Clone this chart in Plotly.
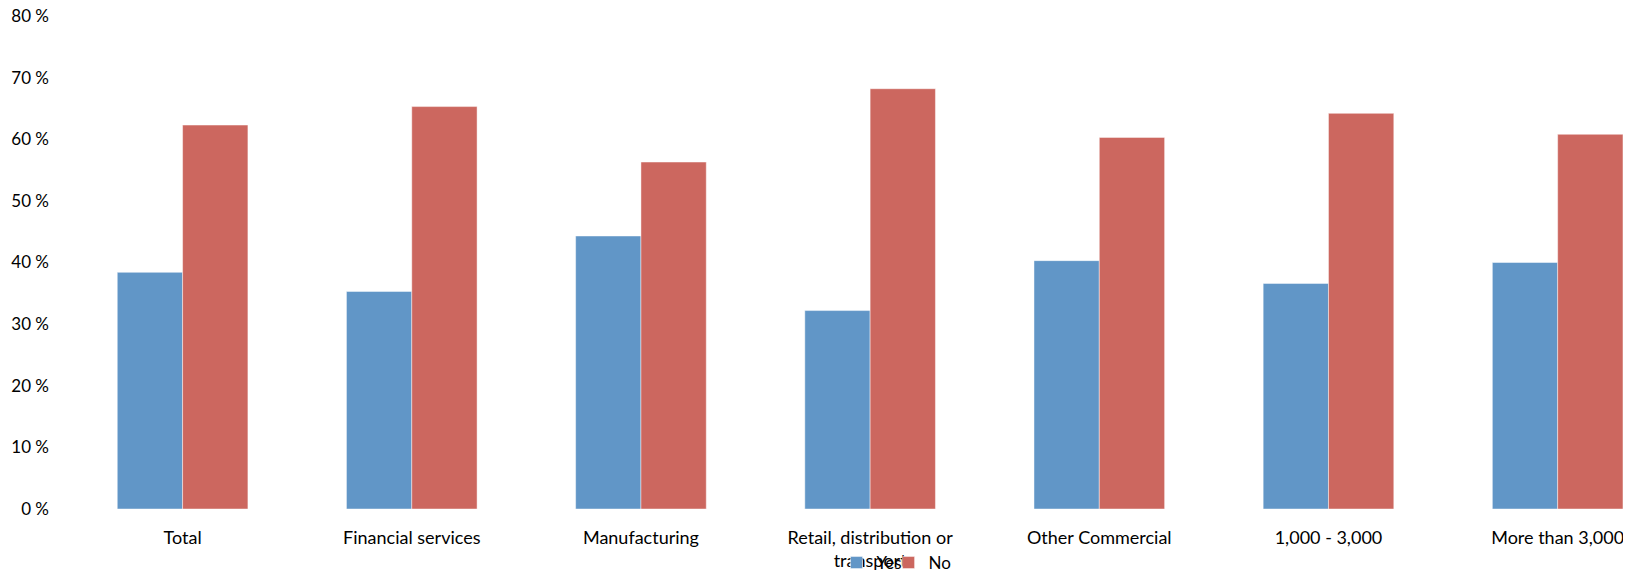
import plotly.graph_objects as go

categories = ["Total", "Financial services", "Manufacturing",
              "Retail, distribution or<br>transport", "Other Commercial",
              "1,000 - 3,000", "More than 3,000"]
yes_vals = [38.4, 35.3, 44.3, 32.2, 40.3, 36.6, 40.0]
no_vals = [62.3, 65.3, 56.3, 68.2, 60.3, 64.2, 60.8]
y_ticks = [0, 10, 20, 30, 40, 50, 60, 70, 80]
y_ticktext = [f"{v} %" for v in y_ticks]

FONT = "Lato"
fig = go.Figure()
fig.add_trace(go.Bar(name="Yes", x=categories, y=yes_vals, legend="legend",
                     marker=dict(color="#6196C7", line=dict(color="rgba(255,255,255,0.45)", width=1))))
fig.add_trace(go.Bar(name="No", x=categories, y=no_vals, legend="legend2",
                     marker=dict(color="#CC675F", line=dict(color="rgba(255,255,255,0.45)", width=1))))

legend_common = dict(orientation="h", yanchor="middle", xanchor="left", y=-0.1095,
                     font=dict(family=FONT, size=17, color="#000000"),
                     bgcolor="rgba(0,0,0,0)", itemwidth=30)

# page body has an 8px default margin, so the figure is sized to fit inside the window
fig.update_layout(
    width=1623, height=567,
    barmode="group", bargap=0.43, bargroupgap=0,
    plot_bgcolor="white", paper_bgcolor="white",
    margin=dict(l=60, r=0, t=8, b=66, autoexpand=False),
    font=dict(family=FONT, size=17, color="#000000"),
    showlegend=True,
    legend=dict(x=0.4917, **legend_common),
    legend2=dict(x=0.525, **legend_common),
    xaxis=dict(range=[-0.5, 6.32], showgrid=False, showline=False, ticks="",
               tickfont=dict(size=18), ticklabelstandoff=16, automargin=False),
    yaxis=dict(range=[0, 80], tickmode="array", tickvals=y_ticks, ticktext=y_ticktext,
               showgrid=False, showline=False, zeroline=False, ticks="",
               tickfont=dict(size=17), ticklabelstandoff=18, automargin=False,
               ticklabeloverflow="allow"),
)
fig.write_html("out.html")
